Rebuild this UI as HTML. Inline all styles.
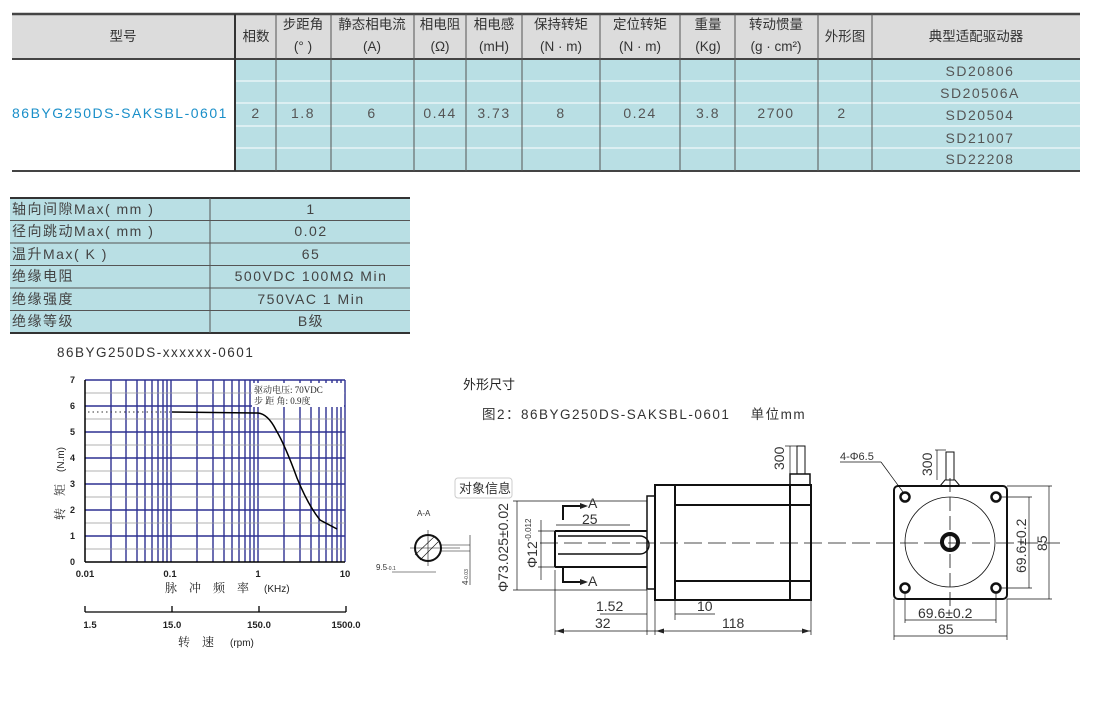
<!DOCTYPE html>
<html><head><meta charset="utf-8"><style>
body{margin:0;width:1100px;height:704px;background:#fff;font-family:"Liberation Sans","Noto Sans CJK SC",sans-serif;color:#333;position:relative;overflow:hidden}
svg{position:absolute;left:0;top:0}
.w text,text.w{letter-spacing:1.5px}
</style></head><body>
<svg width="1100" height="704" viewBox="0 0 1100 704" font-family="Liberation Sans, Noto Sans CJK SC, sans-serif">
<!-- Table 1 -->
<rect x="12" y="14" width="1068" height="45" fill="#dcdcdc"/>
<rect x="235" y="59" width="845" height="112" fill="#b9dfe4"/>
<g stroke="#fff" stroke-width="1"><line x1="235" y1="81" x2="1080" y2="81"/><line x1="235" y1="103" x2="1080" y2="103"/><line x1="235" y1="126" x2="1080" y2="126"/><line x1="235" y1="148" x2="1080" y2="148"/></g>
<line x1="12" y1="14" x2="1080" y2="14" stroke="#444" stroke-width="2.5"/>
<line x1="12" y1="59" x2="1080" y2="59" stroke="#444" stroke-width="2"/>
<line x1="12" y1="171" x2="1080" y2="171" stroke="#444" stroke-width="2"/>
<line x1="235" y1="14" x2="235" y2="171" stroke="#333" stroke-width="2"/>
<g stroke="#555" stroke-width="1">
<line x1="276" y1="14" x2="276" y2="171"/><line x1="331" y1="14" x2="331" y2="171"/><line x1="414" y1="14" x2="414" y2="171"/><line x1="466" y1="14" x2="466" y2="171"/><line x1="522" y1="14" x2="522" y2="171"/><line x1="600" y1="14" x2="600" y2="171"/><line x1="680" y1="14" x2="680" y2="171"/><line x1="735" y1="14" x2="735" y2="171"/><line x1="818" y1="14" x2="818" y2="171"/><line x1="872" y1="14" x2="872" y2="171"/></g>
<g font-size="13.5" fill="#333" text-anchor="middle">
<text x="123" y="41">型号</text><text x="256" y="41">相数</text>
<text x="303" y="29">步距角</text><text x="303" y="51">(° )</text>
<text x="372" y="29">静态相电流</text><text x="372" y="51">(A)</text>
<text x="440" y="29">相电阻</text><text x="440" y="51">(Ω)</text>
<text x="494" y="29">相电感</text><text x="494" y="51">(mH)</text>
<text x="561" y="29">保持转矩</text><text x="561" y="51">(N · m)</text>
<text x="640" y="29">定位转矩</text><text x="640" y="51">(N · m)</text>
<text x="708" y="29">重量</text><text x="708" y="51">(Kg)</text>
<text x="776" y="29">转动惯量</text><text x="776" y="51">(g · cm²)</text>
<text x="845" y="41">外形图</text><text x="976" y="41">典型适配驱动器</text>
</g>
<text class="w" x="12" y="118" font-size="14" fill="#1a8fc9">86BYG250DS-SAKSBL-0601</text>
<g font-size="14" fill="#555" text-anchor="middle" class="w">
<text x="256" y="118">2</text><text x="303" y="118">1.8</text><text x="372" y="118">6</text><text x="440" y="118">0.44</text><text x="494" y="118">3.73</text><text x="561" y="118">8</text><text x="640" y="118">0.24</text><text x="708" y="118">3.8</text><text x="776" y="118">2700</text><text x="842" y="118">2</text>
<text x="980" y="76">SD20806</text><text x="980" y="98">SD20506A</text><text x="980" y="120">SD20504</text><text x="980" y="143">SD21007</text><text x="980" y="164">SD22208</text>
</g>
<!-- Table 2 -->
<rect x="10" y="198" width="400" height="135" fill="#b9dfe4"/>
<line x1="10" y1="198" x2="410" y2="198" stroke="#333" stroke-width="2"/>
<line x1="10" y1="333" x2="410" y2="333" stroke="#333" stroke-width="2"/>
<g stroke="#555" stroke-width="1"><line x1="10" y1="220.5" x2="410" y2="220.5"/><line x1="10" y1="243" x2="410" y2="243"/><line x1="10" y1="265.5" x2="410" y2="265.5"/><line x1="10" y1="288" x2="410" y2="288"/><line x1="10" y1="310.5" x2="410" y2="310.5"/><line x1="210" y1="198" x2="210" y2="333"/></g>
<g font-size="14" fill="#444" class="w">
<text x="12" y="214">轴向间隙Max( mm )</text><text x="12" y="236">径向跳动Max( mm )</text><text x="12" y="259">温升Max( K )</text><text x="12" y="281">绝缘电阻</text><text x="12" y="304">绝缘强度</text><text x="12" y="326">绝缘等级</text>
</g>
<g font-size="14" fill="#444" text-anchor="middle" class="w">
<text x="311" y="214">1</text><text x="311" y="236">0.02</text><text x="311" y="259">65</text><text x="311" y="281">500VDC 100MΩ  Min</text><text x="311" y="304">750VAC   1 Min</text><text x="311" y="326">B级</text>
</g>
<text class="w" x="57" y="357" font-size="13.5" fill="#333">86BYG250DS-xxxxxx-0601</text>
<!-- chart -->
<g stroke="#2e3192" stroke-width="1.4">
<line x1="85" y1="380" x2="345" y2="380"/><line x1="85" y1="406" x2="345" y2="406"/><line x1="85" y1="432" x2="345" y2="432"/><line x1="85" y1="458" x2="345" y2="458"/><line x1="85" y1="484" x2="345" y2="484"/><line x1="85" y1="510" x2="345" y2="510"/><line x1="85" y1="536" x2="345" y2="536"/>
<line x1="111" y1="380" x2="111" y2="562"/><line x1="126" y1="380" x2="126" y2="562"/><line x1="137" y1="380" x2="137" y2="562"/><line x1="145" y1="380" x2="145" y2="562"/><line x1="152" y1="380" x2="152" y2="562"/><line x1="158" y1="380" x2="158" y2="562"/><line x1="163" y1="380" x2="163" y2="562"/><line x1="167" y1="380" x2="167" y2="562"/><line x1="171" y1="380" x2="171" y2="562"/>
<line x1="197" y1="380" x2="197" y2="562"/><line x1="213" y1="380" x2="213" y2="562"/><line x1="224" y1="380" x2="224" y2="562"/><line x1="232" y1="380" x2="232" y2="562"/><line x1="239" y1="380" x2="239" y2="562"/><line x1="245" y1="380" x2="245" y2="562"/><line x1="250" y1="380" x2="250" y2="562"/><line x1="254" y1="380" x2="254" y2="562"/><line x1="258" y1="380" x2="258" y2="562"/>
<line x1="284" y1="380" x2="284" y2="562"/><line x1="300" y1="380" x2="300" y2="562"/><line x1="311" y1="380" x2="311" y2="562"/><line x1="319" y1="380" x2="319" y2="562"/><line x1="326" y1="380" x2="326" y2="562"/><line x1="332" y1="380" x2="332" y2="562"/><line x1="337" y1="380" x2="337" y2="562"/><line x1="341" y1="380" x2="341" y2="562"/><line x1="345" y1="380" x2="345" y2="562"/>
</g>
<g stroke="#999" stroke-width="0.8"><line x1="85" y1="393" x2="345" y2="393"/><line x1="85" y1="419" x2="345" y2="419"/><line x1="85" y1="445" x2="345" y2="445"/><line x1="85" y1="471" x2="345" y2="471"/><line x1="85" y1="497" x2="345" y2="497"/><line x1="85" y1="523" x2="345" y2="523"/><line x1="85" y1="549" x2="345" y2="549"/></g>
<line x1="85" y1="380" x2="85" y2="562" stroke="#000" stroke-width="1.5"/>
<line x1="85" y1="562" x2="345" y2="562" stroke="#000" stroke-width="1.5"/>
<rect x="252" y="383" width="92" height="24" fill="#fff"/>
<text x="254" y="393" font-size="9" fill="#222" font-family="Liberation Serif, Noto Serif CJK SC, serif">驱动电压: 70VDC</text>
<text x="254" y="404" font-size="9" fill="#222" font-family="Liberation Serif, Noto Serif CJK SC, serif">步 距 角: 0.9度</text>
<line x1="88" y1="412" x2="170" y2="412" stroke="#333" stroke-dasharray="1.5,3"/>
<path d="M172 412 L258 413 Q268 414 276 430 Q285 445 297 478 Q308 505 320 520 L337 529" fill="none" stroke="#000" stroke-width="1.5"/>
<g font-size="9" font-weight="bold" fill="#222" text-anchor="end">
<text x="75" y="383">7</text><text x="75" y="409">6</text><text x="75" y="435">5</text><text x="75" y="461">4</text><text x="75" y="487">3</text><text x="75" y="513">2</text><text x="75" y="539">1</text><text x="75" y="565">0</text></g>
<g font-size="9.5" font-weight="bold" fill="#222" text-anchor="middle">
<text x="85" y="577">0.01</text><text x="170" y="577">0.1</text><text x="258" y="577">1</text><text x="345" y="577">10</text>
<text x="90" y="628">1.5</text><text x="172" y="628">15.0</text><text x="259" y="628">150.0</text><text x="346" y="628">1500.0</text></g>
<text x="165" y="592" font-size="12" fill="#222" font-family="Noto Serif CJK SC, serif">脉　冲　频　率</text><text x="264" y="592" font-size="10" fill="#222">(KHz)</text>
<text x="178" y="646" font-size="12" fill="#222" font-family="Noto Serif CJK SC, serif">转　速</text><text x="230" y="646" font-size="10" fill="#222">(rpm)</text>
<text transform="translate(64 520) rotate(-90)" font-size="12" fill="#222" font-family="Noto Serif CJK SC, serif">转　矩　<tspan font-size="10" font-family="Liberation Sans">(N.m)</tspan></text>
<g stroke="#000" stroke-width="1.3"><line x1="85" y1="612" x2="346" y2="612"/><line x1="85" y1="606" x2="85" y2="612"/><line x1="172" y1="606" x2="172" y2="612"/><line x1="259" y1="606" x2="259" y2="612"/><line x1="346" y1="606" x2="346" y2="612"/></g>
<!-- drawing titles -->
<text x="463" y="389" font-size="13" fill="#222">外形尺寸</text>
<text class="w" x="482" y="419" font-size="13.5" fill="#333">图2：86BYG250DS-SAKSBL-0601　 单位mm</text>
<g stroke="#111" fill="none" stroke-width="1">
<circle cx="428" cy="548" r="13" stroke-width="2"/>
<line x1="428" y1="530" x2="428" y2="566" stroke-width="0.6"/><line x1="410" y1="548" x2="460" y2="548" stroke-width="0.6"/>
<line x1="440" y1="545" x2="470" y2="545" stroke-width="0.6"/><line x1="440" y1="551" x2="470" y2="551" stroke-width="0.6"/>
<line x1="470" y1="535" x2="470" y2="585" stroke-width="0.6"/>
<line x1="415" y1="555" x2="435" y2="536" stroke-width="0.6"/><line x1="420" y1="560" x2="438" y2="542" stroke-width="0.6"/>
<line x1="392" y1="572" x2="436" y2="572" stroke-width="0.6"/>
<rect x="655" y="485" width="156" height="115" stroke-width="2"/>
<rect x="647" y="496" width="8" height="93" stroke-width="1.5"/>
<line x1="675" y1="485" x2="675" y2="600" stroke-width="2"/><line x1="790" y1="485" x2="790" y2="600" stroke-width="2"/>
<line x1="675" y1="505" x2="811" y2="505" stroke-width="2"/><line x1="675" y1="581" x2="811" y2="581" stroke-width="2"/>
<rect x="790" y="474" width="20" height="11" stroke-width="1.5"/>
<rect x="797" y="446" width="8" height="28"/>
<path d="M555 531 H647 M555 567 H647 M555 531 V567" stroke-width="2"/>
<path d="M558 536 H640 a5 5 0 0 1 0 18 H558" stroke-width="1.5"/>
<line x1="540" y1="543" x2="1060" y2="543" stroke-dasharray="18,6" stroke-width="0.8"/>
<path d="M563 520 V506 H580 M563 568 V582 H580" stroke-width="2"/>
<g stroke-width="0.7">
<line x1="556" y1="525" x2="630" y2="525"/><line x1="513" y1="501" x2="647" y2="501"/><line x1="513" y1="590" x2="647" y2="590"/><line x1="517" y1="501" x2="517" y2="590"/>
<line x1="538" y1="531" x2="555" y2="531"/><line x1="538" y1="567" x2="555" y2="567"/><line x1="541" y1="520" x2="541" y2="580"/>
<line x1="555" y1="570" x2="555" y2="635"/><line x1="647" y1="590" x2="647" y2="635"/><line x1="655" y1="600" x2="655" y2="635"/><line x1="675" y1="600" x2="675" y2="620"/><line x1="811" y1="600" x2="811" y2="635"/>
<line x1="555" y1="631" x2="811" y2="631"/><line x1="600" y1="614" x2="647" y2="614"/><line x1="675" y1="614" x2="715" y2="614"/>
<line x1="790" y1="446" x2="790" y2="474"/><line x1="785" y1="446" x2="797" y2="446"/>
</g>
<rect x="894" y="486" width="113" height="113" rx="4" stroke-width="2"/>
<circle cx="950" cy="542" r="45" stroke-width="0.8"/>
<circle cx="950" cy="542" r="8" stroke-width="4"/>
<line x1="950" y1="478" x2="950" y2="610" stroke-dasharray="14,5" stroke-width="0.8"/>
<circle cx="905" cy="497" r="4.5" stroke-width="2.5"/><circle cx="996" cy="497" r="4.5" stroke-width="2.5"/><circle cx="905" cy="588" r="4.5" stroke-width="2.5"/><circle cx="996" cy="588" r="4.5" stroke-width="2.5"/>
<path d="M940 486 l5 -6 h10 l5 6"/><rect x="946" y="452" width="8" height="28"/>
<g stroke-width="0.7">
<line x1="1007" y1="486" x2="1052" y2="486"/><line x1="1007" y1="599" x2="1052" y2="599"/><line x1="1049" y1="486" x2="1049" y2="599"/>
<line x1="1000" y1="497" x2="1032" y2="497"/><line x1="1000" y1="588" x2="1032" y2="588"/><line x1="1029" y1="497" x2="1029" y2="588"/>
<line x1="894" y1="599" x2="894" y2="640"/><line x1="1007" y1="599" x2="1007" y2="640"/><line x1="894" y1="636" x2="1007" y2="636"/>
<line x1="905" y1="592" x2="905" y2="623"/><line x1="996" y1="592" x2="996" y2="623"/><line x1="905" y1="620" x2="996" y2="620"/>
<line x1="840" y1="462" x2="881" y2="462"/><line x1="881" y1="462" x2="903" y2="492"/>
<line x1="935" y1="450" x2="946" y2="450"/><line x1="937" y1="450" x2="937" y2="480"/>
</g>
</g>
<g fill="#222">
<path d="M580 503 l8 3 l-8 3z"/><path d="M580 579 l8 3 l-8 3z"/>
<path d="M556 631 l8 -2.5 v5z"/><path d="M810 631 l-8 -2.5 v5z"/><path d="M656 631 l8 -2.5 v5z"/>
</g>
<g font-size="14" fill="#333">
<text x="588" y="508">A</text><text x="588" y="586">A</text>
<text x="582" y="524">25</text><text x="596" y="611">1.52</text><text x="697" y="611">10</text><text x="595" y="628">32</text><text x="722" y="628">118</text>
<text x="918" y="618">69.6±0.2</text><text x="938" y="634">85</text>
<text transform="translate(508 592) rotate(-90)">Φ73.025±0.02</text>
<text transform="translate(537 568) rotate(-90)">Φ12<tspan font-size="8" dy="-6">-0.012</tspan></text>
<text transform="translate(1026 573) rotate(-90)">69.6±0.2</text>
<text transform="translate(1047 551) rotate(-90)">85</text>
<text transform="translate(784 470) rotate(-90)">300</text>
<text transform="translate(932 476) rotate(-90)">300</text>
<text x="840" y="460" font-size="11">4-Φ6.5</text>
<text x="417" y="516" font-size="8">A-A</text>
<text x="376" y="570" font-size="8">9.5<tspan font-size="5">-0.1</tspan></text>
<text transform="translate(468 585) rotate(-90)" font-size="8">4<tspan font-size="5">-0.03</tspan></text>
</g>
<rect x="455" y="478" width="57" height="20" rx="3" fill="#fff" stroke="#ccc"/>
<text x="459" y="493" font-size="13" fill="#333">对象信息</text>
</svg>
</body></html>
